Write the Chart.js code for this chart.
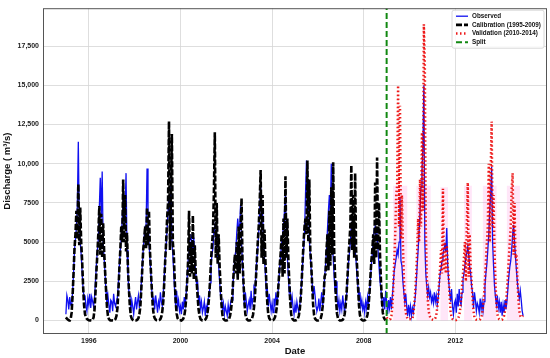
<!DOCTYPE html>
<html>
<head>
<meta charset="utf-8">
<script src="https://cdn.jsdelivr.net/npm/chart.js@4.4.0/dist/chart.umd.min.js"></script>
<style>
  html, body { margin: 0; padding: 0; background: #fff; }
</style>
</head>
<body>
<canvas id="chart" width="550" height="358"></canvas>
<script>
// semi-monthly values (1st and 16th of each month), m3/s
const obsStart = 1995;
const observed = [
  400,1600,1300,700,1500,1000,900,1800,3000,4500,5200,6000,7400,11400,6000,5000,4200,3100,2000,1500,1600,900,600,1400,
  1000,1700,800,1500,1200,900,1500,2500,3600,4500,5200,7200,9100,6500,9500,5000,4000,3000,1800,1000,1600,1000,500,1300,
  1200,600,1700,1100,900,1200,1500,2400,3500,4500,5200,6500,7800,6200,7000,9400,4500,3000,1800,1700,600,1300,900,400,
  1000,1500,700,1200,1600,800,1300,2400,3500,4500,5300,6000,6000,9700,7000,5000,4000,3000,1900,1200,1400,700,1600,1100,
  500,1200,900,1800,1200,900,1700,2800,4000,4700,5800,7000,8000,6000,9000,5200,4200,3000,1800,900,1900,900,1300,600,
  900,400,1200,700,1500,1000,1700,2700,3800,4300,5200,5500,5000,4500,5300,3800,3000,2200,2400,1000,1600,800,1200,500,
  800,1200,300,900,600,1400,1500,2400,3500,4200,4600,5600,6000,5200,4500,4000,3500,2500,1600,1500,700,1100,400,900,
  600,300,1000,500,900,1300,1300,2200,3200,4000,4500,5600,6500,5800,6000,7400,5000,3500,2200,900,1800,1200,600,1000,
  1300,700,1900,1000,1400,2100,1900,2900,3900,4600,5600,7000,8700,6500,7000,5000,4000,3000,1800,2000,900,1700,1100,600,
  1100,500,1400,900,1800,1200,1500,2500,3400,4200,4900,5500,6000,7000,8000,5000,4000,2800,1800,2000,1000,1500,800,400,
  1000,500,1200,800,500,1000,1600,2500,3600,4500,5600,8000,10200,7000,8200,5200,4200,3200,2400,1400,2200,1600,900,600,
  800,1400,600,1200,1800,900,1700,2700,3500,4500,5800,7000,8000,6800,10000,5000,4000,2800,1800,2500,1500,800,1300,600,
  1100,700,1600,1000,500,1300,1500,2600,3600,4300,5000,6000,5600,4500,6200,4500,3800,2800,2100,1200,1800,900,1300,700,
  1000,500,1200,800,1500,1000,1800,2600,3600,4300,5000,5800,6000,5200,5500,4500,3500,2500,2000,1300,900,1500,700,1900,
  1200,400,1300,800,1500,700,1600,2400,3200,3600,4000,4500,4200,5000,7900,3800,3500,2500,1800,1200,1700,900,300,1000,
  400,900,300,800,500,1000,1500,2400,3500,4500,5600,7000,8500,9500,11000,15000,5000,3000,2200,1600,2100,1500,1800,1200,
  1500,1100,1800,1200,1600,1000,1400,2200,3000,3300,3800,4200,4500,4800,4400,5900,3500,2500,1800,1200,2000,900,400,1100,
  1300,500,1700,900,2000,1200,1000,1800,2600,3000,3500,4000,4300,4700,4200,3400,3000,2200,1800,800,1800,1300,600,1100,
  900,500,1400,700,1200,600,1200,2200,3000,3600,4500,5500,7000,8000,9800,5000,3500,2200,1500,1000,1600,800,1200,500,
  1200,300,1000,500,1300,700,1200,2000,2800,3400,3800,4500,5500,6100,5000,4000,3200,2400,1800,1400,1900,1300,600,300
];

const calStart = 1995;
const calibration = [
  200,120,60,20,0,100,500,1600,3000,4600,5500,7000,5200,8700,4800,7200,5000,3800,2200,1000,400,200,100,50,
  20,0,10,0,50,200,700,1800,3200,4300,5600,7300,4200,6800,4000,6200,4500,3200,2000,900,300,100,30,10,
  0,10,0,30,100,300,800,1900,3300,4500,6000,5000,9000,5000,8000,4400,5600,3300,2000,900,300,120,40,0,
  0,0,20,60,150,400,900,2000,3300,4500,5200,6000,4600,7200,4800,7000,4500,3200,2000,900,350,150,60,20,
  10,0,30,100,250,600,1200,2400,3800,5000,6500,7500,12700,4500,8000,11900,5000,4200,2600,1200,450,150,60,20,
  20,0,40,120,300,700,1400,2500,3800,7000,2800,5000,3000,6700,2600,4800,3000,2500,1500,700,300,100,40,0,
  0,20,60,150,350,800,1500,2500,3800,4800,5600,8000,12000,4000,7500,3600,5500,3500,2200,1000,350,120,40,0,
  0,10,40,120,300,700,1300,2300,3300,4200,3000,5000,2600,6000,3000,5500,7800,3800,2500,1200,400,150,50,0,
  0,10,50,150,350,800,1500,2600,3800,5000,6000,7500,9600,4000,8000,3600,5800,3800,2400,1100,400,150,50,0,
  0,20,80,200,450,900,1600,2600,3500,4300,5500,2800,6500,3000,9200,4000,6500,4000,2500,1200,400,150,50,0,
  0,10,40,120,300,700,1400,2500,3800,5000,6000,6500,5500,10200,5000,9000,4500,3600,2200,1000,350,120,40,0,
  0,20,60,150,400,900,1600,2800,3000,4500,5500,3200,7000,3500,8500,4200,10100,4500,2800,1300,450,150,50,0,
  0,10,50,150,400,900,1700,2800,4000,5000,6000,9900,4500,8000,4000,9400,4500,3500,2200,1000,350,120,40,0,
  0,20,60,150,400,900,1700,2800,3800,4500,5500,3600,8800,4000,10400,4500,7500,4300,2600,1300,500,200,80,20
];

const valStart = 2009;
const validation = [
  200,100,80,60,100,300,900,2200,3800,5500,8000,8600,15000,6000,13700,5200,8000,5000,2800,1300,500,250,120,80,
  100,80,60,120,400,1000,1900,3000,4500,6500,5000,9000,6000,12000,7000,18900,16300,6000,3000,1400,600,300,150,80,
  60,40,60,150,350,800,1500,2500,3400,4500,3000,8400,3200,5000,3000,4800,3500,2800,1500,600,200,100,60,40,
  40,30,60,150,300,700,1300,2200,3000,4000,5000,2500,6000,8800,2800,5500,3500,2500,1400,600,200,100,50,30,
  30,40,80,180,400,900,1600,2600,3800,5000,6000,10000,5000,9500,12700,6000,8000,4500,2500,1100,400,150,80,40,
  40,60,120,300,600,1100,1900,2800,4000,5000,6000,8400,9400,4200,7500,4000,4200,2600,1400,600,300,200,250,300
];

// shaded validation windows: [from, to, top]
const bands = [
  [2009.28, 2009.9, 8600],
  [2010.3, 2010.92, 8600],
  [2011.35, 2011.68, 8500],
  [2012.38, 2012.72, 8600],
  [2013.2, 2013.8, 8600],
  [2014.25, 2014.82, 8600]
];

const splitYear = 2009;
const yearTicks = [1996, 2000, 2004, 2008, 2012];
const dischargeTicks = [0, 2500, 5000, 7500, 10000, 12500, 15000, 17500];
const xMin = 1994, xMax = 2016;
const yMin = -860, yMax = 19920;

function toPoints(start, values) {
  return values.map((v, i) => ({ x: start + i / 24, y: v }));
}

function bandPoints() {
  const pts = [];
  bands.forEach(b => {
    pts.push({ x: b[0], y: 0 }, { x: b[0], y: b[2] }, { x: b[1], y: b[2] }, { x: b[1], y: 0 });
  });
  return pts;
}

const font = "'Liberation Sans', Arial, sans-serif";

const frameAndLegend = {
  id: 'frameAndLegend',
  afterDraw(chart) {
    const c = chart.ctx;
    const a = chart.chartArea;
    c.save();
    c.strokeStyle = '#555';
    c.lineWidth = 1;
    c.strokeRect(a.left + 0.5, a.top + 0.5, a.right - a.left - 1, a.bottom - a.top - 1);

    const items = chart.data.datasets.filter(d => d.label);
    const w = 92, h = 38;
    const x0 = a.right - w - 3, y0 = a.top + 2;
    c.fillStyle = 'rgba(255,255,255,0.85)';
    c.strokeStyle = '#d8d8d8';
    c.beginPath();
    c.roundRect(x0, y0, w, h, 2);
    c.fill();
    c.stroke();
    c.font = 'bold 6.3px ' + font;
    c.textBaseline = 'middle';
    items.forEach((d, i) => {
      const y = y0 + 6 + i * 8.7;
      c.strokeStyle = d.borderColor;
      c.lineWidth = d.borderWidth;
      c.setLineDash(d.borderDash || []);
      c.beginPath();
      c.moveTo(x0 + 4, y);
      c.lineTo(x0 + 16, y);
      c.stroke();
      c.setLineDash([]);
      c.fillStyle = '#111';
      c.fillText(d.label, x0 + 20, y);
    });
    c.restore();
  }
};

new Chart(document.getElementById('chart'), {
  type: 'line',
  data: {
    datasets: [
      {
        label: 'Observed',
        data: toPoints(obsStart, observed),
        borderColor: '#1010f0',
        borderWidth: 1.3,
        order: 3
      },
      {
        label: 'Calibration (1995-2009)',
        data: toPoints(calStart, calibration),
        borderColor: '#000',
        borderWidth: 2.6,
        borderDash: [6, 2],
        order: 2
      },
      {
        label: 'Validation (2010-2014)',
        data: toPoints(valStart, validation),
        borderColor: 'rgba(235,0,0,0.9)',
        borderWidth: 2.5,
        borderDash: [1.5, 2.5],
        order: 1
      },
      {
        label: 'Split',
        data: [{ x: splitYear, y: yMin }, { x: splitYear, y: yMax }],
        borderColor: '#118811',
        borderWidth: 2,
        borderDash: [6, 3],
        order: 0
      },
      {
        data: bandPoints(),
        borderWidth: 0,
        borderColor: 'rgba(0,0,0,0)',
        backgroundColor: 'rgba(255,60,200,0.13)',
        fill: 'origin',
        order: 4
      }
    ]
  },
  options: {
    responsive: false,
    animation: false,
    events: [],
    elements: {
      point: { radius: 0 },
      line: { tension: 0, borderJoinStyle: 'miter' }
    },
    layout: { padding: { top: 7, right: 3, left: 0, bottom: 0 } },
    plugins: {
      legend: { display: false },
      tooltip: { enabled: false }
    },
    scales: {
      x: {
        type: 'linear',
        min: xMin,
        max: xMax,
        afterBuildTicks: s => { s.ticks = yearTicks.map(v => ({ value: v })); },
        afterFit: s => { s.height = 24; },
        grid: { color: '#d6d6d6', lineWidth: 0.8, drawTicks: false },
        border: { display: false },
        ticks: {
          padding: 3,
          color: '#222',
          font: { family: font, size: 7, weight: 'bold' },
          callback: v => String(v)
        },
        title: {
          display: true,
          text: 'Date',
          color: '#111',
          padding: { top: 0, bottom: 1 },
          font: { family: font, size: 9.5, weight: 'bold' }
        }
      },
      y: {
        min: yMin,
        max: yMax,
        afterBuildTicks: s => { s.ticks = dischargeTicks.map(v => ({ value: v })); },
        afterFit: s => { s.width = 43; },
        grid: { color: '#d6d6d6', lineWidth: 0.8, drawTicks: false },
        border: { display: false },
        ticks: {
          padding: 4,
          color: '#222',
          font: { family: font, size: 7, weight: 'bold' },
          callback: v => v >= 10000 ? v.toLocaleString('en-US') : String(v)
        },
        title: {
          display: true,
          text: 'Discharge ( m³/s)',
          color: '#111',
          padding: { top: 2, bottom: 0 },
          font: { family: font, size: 9.5, weight: 'bold' }
        }
      }
    }
  },
  plugins: [frameAndLegend]
});
</script>
</body>
</html>
